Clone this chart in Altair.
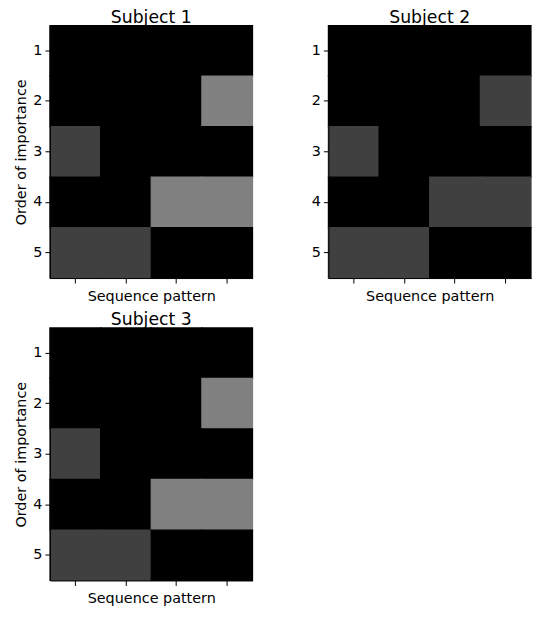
import altair as alt
import pandas as pd

rows = [1, 2, 3, 4, 5]
cols = [1, 2, 3, 4]
subject_1 = [
    [0, 0, 0, 0],
    [0, 0, 0, 2],
    [1, 0, 0, 0],
    [0, 0, 2, 2],
    [1, 1, 0, 0],
]
subject_2 = [
    [0, 0, 0, 0],
    [0, 0, 0, 1],
    [1, 0, 0, 0],
    [0, 0, 1, 1],
    [1, 1, 0, 0],
]
subject_3 = [
    [0, 0, 0, 0],
    [0, 0, 0, 2],
    [1, 0, 0, 0],
    [0, 0, 2, 2],
    [1, 1, 0, 0],
]
titles = ["Subject 1", "Subject 2", "Subject 3"]

FONT = "DejaVu Sans"


def frame(mat):
    recs = []
    for i, r in enumerate(rows):
        for j, c in enumerate(cols):
            recs.append({"row": r, "col": c, "v": mat[i][j]})
    return pd.DataFrame(recs)


gray = alt.Scale(domain=[0, 4], range=["#000000", "#ffffff"], interpolate="rgb")


def panel(mat, title, ytitle):
    yaxis = alt.Axis(
        title=ytitle if ytitle else "",
        labelAngle=0,
        labelPadding=3,
        titlePadding=4,
    )
    return (
        alt.Chart(frame(mat))
        .mark_rect(strokeWidth=1.2)
        .encode(
            x=alt.X("col:O", axis=alt.Axis(title="Sequence pattern", labels=False, titlePadding=6),
                    scale=alt.Scale(paddingInner=0, paddingOuter=0)),
            y=alt.Y("row:O", axis=yaxis, scale=alt.Scale(paddingInner=0, paddingOuter=0)),
            color=alt.Color("v:Q", scale=gray, legend=None),
            stroke=alt.Stroke("v:Q", scale=gray, legend=None),
        )
        .properties(
            width=203,
            height=253,
            title=alt.TitleParams(title, fontSize=17.3, font=FONT, fontWeight="normal",
                                  anchor="middle", offset=-1, color="black"),
        )
    )


c1 = panel(subject_1, titles[0], "Order of importance")
c2 = panel(subject_2, titles[1], None)
c3 = panel(subject_3, titles[2], "Order of importance")

chart = (
    alt.vconcat(alt.hconcat(c1, c2, spacing=57), c3, spacing=8)
    .properties(padding={"left": 5, "top": 0, "right": 0, "bottom": 0})
    .configure_view(strokeWidth=0, fill="black")
    .configure_axis(
        labelFont=FONT, titleFont=FONT, labelFontSize=14.4, titleFontSize=14.4,
        labelColor="black", titleColor="black", tickColor="black", domainColor="black",
        tickSize=5, grid=False, titleFontWeight="normal", domainWidth=1, tickWidth=1,
    )
)

chart.save("out.html", embed_options={"renderer": "svg", "actions": False})
